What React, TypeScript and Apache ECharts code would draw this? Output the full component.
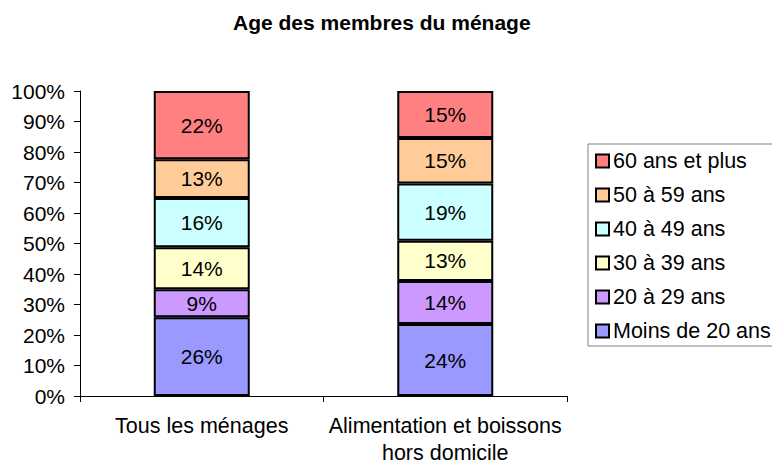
import React, { useEffect, useRef } from "react";
import * as echarts from "echarts";

const categories = ["Tous les ménages", "Alimentation et boissons\nhors domicile"];
const seriesNames = ["Moins de 20 ans", "20 à 29 ans", "30 à 39 ans", "40 à 49 ans", "50 à 59 ans", "60 ans et plus"];
const seriesColors = ["#9999FF", "#CC99FF", "#FFFFCC", "#CCFFFF", "#FFCC99", "#FF8080"];
const moins20 = [25.8, 23.6];
const ans20_29 = [9.2, 14.1];
const ans30_39 = [13.8, 13.2];
const ans40_49 = [16.1, 18.8];
const ans50_59 = [12.7, 14.9];
const ans60plus = [22.4, 15.4];
const seriesValues = [moins20, ans20_29, ans30_39, ans40_49, ans50_59, ans60plus];

const FONT = "'Liberation Sans', Arial, Helvetica, sans-serif";

export default function App() {
  const ref = useRef<HTMLDivElement>(null);
  useEffect(() => {
    if (!ref.current) return;
    const chart = echarts.init(ref.current, null, { renderer: "svg" });
    chart.setOption({
      animation: false,
      backgroundColor: "#ffffff",
      textStyle: { fontFamily: FONT },
      title: {
        text: "Age des membres du ménage",
        left: 228,
        top: 7,
        textStyle: { fontFamily: FONT, fontSize: 21, fontWeight: "bold", color: "#000" },
      },
      legend: {
        left: 588,
        top: 144,
        orient: "vertical",
        data: [...seriesNames].reverse(),
        icon: "rect",
        itemWidth: 13,
        itemHeight: 13,
        itemGap: 12,
        padding: [6, 5, 4, 7],
        borderColor: "#808080",
        borderWidth: 1,
        itemStyle: { borderColor: "#000", borderWidth: 2 },
        textStyle: { fontFamily: FONT, fontSize: 21.5, color: "#000", lineHeight: 22, padding: [0, 0, 0, -1] },
      },
      grid: { left: 80, right: 205, top: 91, bottom: 68, containLabel: false },
      xAxis: {
        type: "category",
        data: categories,
        axisLine: { lineStyle: { color: "#000", width: 1 } },
        axisTick: { show: true, length: 6, lineStyle: { color: "#000" }, alignWithLabel: false },
        axisLabel: { interval: 0, color: "#000", fontFamily: FONT, fontSize: 21.5, margin: 16, lineHeight: 27 },
      },
      yAxis: {
        type: "value",
        min: 0,
        max: 100,
        interval: 10,
        axisLine: { show: true, lineStyle: { color: "#000", width: 1 } },
        axisTick: { show: true, length: 6, lineStyle: { color: "#000" } },
        splitLine: { show: false },
        axisLabel: { color: "#000", fontFamily: FONT, fontSize: 21, margin: 15, formatter: "{value}%" },
      },
      series: seriesNames.map((name, i) => ({
        name,
        type: "bar",
        stack: "total",
        barWidth: 96,
        data: seriesValues[i],
        itemStyle: { color: seriesColors[i], borderColor: "#000", borderWidth: 2 },
        label: {
          show: true,
          position: "inside",
          color: "#000",
          fontFamily: FONT,
          fontSize: 21,
          formatter: (p: any) => Math.round(p.value) + "%",
        },
      })),
    });
    return () => chart.dispose();
  }, []);
  return <div ref={ref} style={{ position: "fixed", left: 0, top: 0, width: 772, height: 466 }} />;
}
